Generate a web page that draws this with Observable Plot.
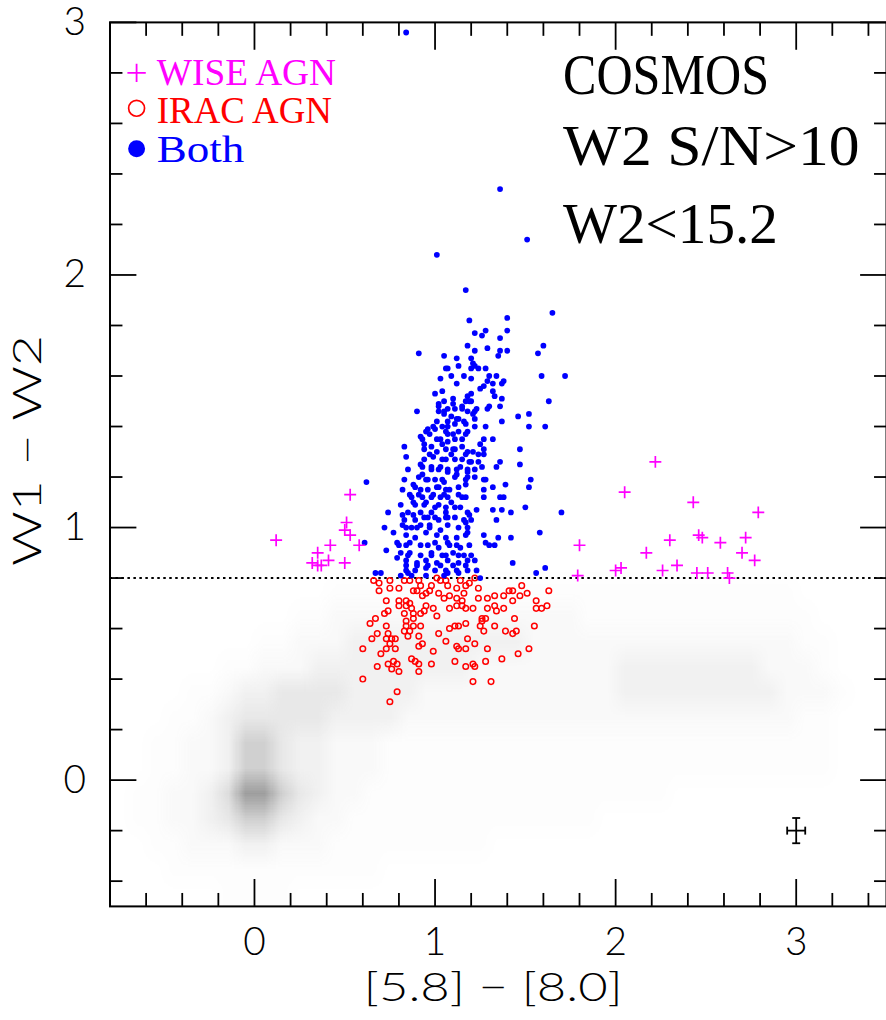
<!DOCTYPE html>
<html><head><meta charset="utf-8">
<script src="https://cdn.jsdelivr.net/npm/d3@7"></script>
<script src="https://cdn.jsdelivr.net/npm/@observablehq/plot@0.6"></script>
<style>html,body{margin:0;padding:0;background:#fff;overflow:hidden}</style>
</head><body><div id="chart"></div>
<script>
// ---- data ----
const majorTicks = [0, 1, 2, 3];
const minorX = [-0.6,-0.4,-0.2,0.2,0.4,0.6,0.8,1.2,1.4,1.6,1.8,2.2,2.4,2.6,2.8,3.2,3.4];
const minorY = [-0.4,-0.2,0.2,0.4,0.6,0.8,1.2,1.4,1.6,1.8,2.2,2.4,2.6,2.8];
const cutY = [0.8];

const wisePts = [[0.12,0.95],[0.53,1.13],[0.51,1.02],[0.50,0.99],[0.53,0.97],[0.58,0.93],[0.42,0.93],[0.35,0.90],[0.41,0.87],[0.32,0.86],[0.35,0.85],[0.37,0.85],[0.50,0.86],[2.22,1.26],[2.05,1.14],[2.43,1.10],[2.79,1.06],[1.80,0.93],[2.46,0.97],[2.48,0.96],[2.30,0.95],[2.72,0.96],[2.58,0.94],[2.17,0.90],[2.70,0.90],[2.77,0.87],[2.34,0.85],[2.26,0.83],[2.00,0.83],[2.03,0.84],[2.45,0.82],[2.51,0.82],[2.62,0.82],[2.63,0.80],[1.79,0.81]];

const iracPts = [[0.66,0.79],[0.69,0.78],[0.75,0.79],[0.75,0.76],[0.69,0.75],[0.80,0.76],[0.83,0.79],[0.86,0.79],[0.91,0.79],[0.92,0.77],[0.98,0.77],[1.01,0.80],[1.03,0.79],[1.06,0.79],[1.07,0.77],[1.12,0.76],[1.14,0.79],[1.17,0.77],[1.22,0.80],[1.19,0.78],[1.24,0.76],[1.41,0.75],[1.43,0.75],[1.48,0.77],[1.51,0.74],[1.63,0.75],[0.90,0.75],[0.93,0.73],[0.95,0.74],[0.88,0.75],[0.97,0.75],[1.02,0.74],[1.05,0.72],[1.08,0.73],[1.12,0.72],[1.16,0.74],[1.15,0.71],[1.24,0.72],[1.29,0.72],[1.33,0.73],[1.38,0.73],[1.43,0.71],[1.47,0.73],[1.56,0.71],[0.73,0.71],[0.80,0.71],[0.84,0.71],[0.86,0.70],[0.80,0.69],[0.84,0.69],[0.95,0.69],[0.99,0.68],[1.08,0.68],[1.12,0.69],[1.15,0.69],[1.17,0.68],[1.21,0.68],[1.29,0.68],[1.33,0.69],[1.38,0.68],[1.34,0.67],[1.56,0.68],[1.59,0.68],[1.62,0.69],[0.74,0.67],[0.72,0.66],[0.87,0.68],[0.88,0.66],[0.92,0.66],[0.94,0.67],[0.83,0.66],[1.01,0.65],[0.67,0.64],[0.64,0.62],[0.84,0.63],[0.88,0.64],[1.26,0.64],[1.28,0.64],[1.26,0.63],[1.44,0.64],[1.55,0.61],[0.73,0.61],[0.84,0.61],[0.88,0.61],[0.92,0.61],[0.83,0.59],[1.17,0.62],[1.11,0.61],[1.13,0.61],[1.08,0.60],[1.25,0.61],[1.33,0.61],[1.27,0.59],[1.39,0.59],[1.43,0.58],[1.45,0.59],[0.68,0.58],[0.74,0.58],[0.86,0.59],[0.85,0.57],[1.02,0.58],[0.65,0.56],[0.73,0.56],[0.76,0.56],[0.78,0.56],[0.91,0.57],[0.75,0.54],[0.73,0.52],[0.78,0.52],[0.91,0.53],[0.93,0.54],[1.06,0.55],[1.18,0.56],[1.22,0.54],[1.12,0.53],[1.13,0.52],[1.17,0.52],[1.29,0.52],[0.60,0.52],[0.99,0.51],[0.70,0.50],[1.52,0.52],[1.46,0.50],[1.37,0.48],[0.87,0.48],[0.89,0.47],[0.91,0.46],[0.98,0.46],[1.11,0.47],[1.28,0.47],[0.74,0.46],[0.77,0.47],[0.79,0.46],[0.68,0.45],[0.76,0.44],[0.80,0.43],[0.91,0.43],[1.17,0.45],[1.21,0.46],[1.22,0.45],[0.60,0.40],[1.21,0.39],[1.31,0.39],[0.79,0.35],[0.75,0.31]];

const bothPts = [[0.84,2.96],[1.36,2.34],[1.51,2.14],[1.01,2.08],[1.17,1.94],[1.65,1.85],[1.40,1.83],[1.19,1.82],[1.40,1.78],[1.22,1.77],[1.28,1.78],[1.26,1.76],[1.36,1.75],[1.18,1.72],[1.29,1.71],[1.60,1.72],[0.91,1.69],[1.22,1.70],[1.36,1.70],[1.40,1.70],[1.57,1.69],[1.05,1.68],[1.12,1.67],[1.20,1.67],[1.35,1.68],[1.21,1.65],[1.22,1.64],[1.06,1.63],[1.07,1.63],[1.13,1.64],[1.20,1.63],[1.24,1.63],[1.28,1.63],[1.59,1.60],[1.72,1.60],[1.03,1.59],[1.09,1.60],[1.16,1.60],[1.20,1.59],[1.30,1.60],[1.34,1.60],[1.12,1.57],[1.29,1.58],[1.32,1.57],[1.38,1.58],[1.37,1.57],[1.27,1.56],[1.25,1.55],[1.20,1.53],[1.00,1.53],[1.04,1.54],[1.32,1.54],[1.33,1.52],[1.18,1.52],[1.10,1.51],[1.63,1.50],[1.37,1.51],[1.17,1.50],[1.20,1.50],[1.05,1.50],[1.02,1.49],[1.15,1.48],[1.23,1.47],[0.90,1.46],[1.30,1.48],[1.36,1.48],[1.07,1.47],[1.11,1.47],[1.02,1.46],[1.18,1.46],[1.46,1.44],[1.52,1.45],[1.37,1.42],[1.29,1.47],[1.21,1.45],[1.09,1.44],[1.05,1.45],[1.13,1.43],[1.22,1.43],[1.01,1.42],[1.16,1.42],[1.52,1.40],[1.61,1.40],[0.99,1.40],[0.96,1.39],[1.04,1.40],[1.07,1.40],[1.11,1.41],[1.28,1.40],[1.22,1.40],[1.13,1.38],[1.18,1.38],[0.92,1.36],[0.97,1.37],[1.07,1.37],[1.17,1.37],[1.32,1.35],[1.27,1.35],[1.01,1.35],[1.11,1.35],[0.83,1.32],[0.94,1.33],[1.25,1.33],[1.04,1.33],[1.15,1.32],[0.94,1.31],[1.01,1.30],[1.10,1.31],[1.21,1.30],[1.27,1.31],[1.47,1.31],[0.84,1.28],[0.97,1.29],[1.17,1.29],[1.27,1.29],[0.94,1.27],[1.06,1.27],[1.11,1.27],[1.19,1.26],[1.24,1.26],[1.36,1.26],[1.47,1.25],[1.34,1.24],[0.85,1.23],[0.92,1.25],[0.98,1.24],[1.02,1.23],[1.14,1.24],[1.18,1.23],[1.26,1.24],[0.93,1.21],[1.07,1.22],[1.12,1.21],[1.18,1.20],[1.22,1.20],[1.53,1.19],[0.83,1.19],[0.96,1.19],[1.04,1.19],[1.27,1.19],[0.62,1.18],[0.82,1.15],[0.88,1.17],[0.92,1.15],[1.01,1.16],[1.08,1.15],[1.17,1.17],[1.39,1.17],[1.32,1.16],[1.52,1.16],[1.27,1.15],[0.86,1.13],[0.91,1.13],[0.99,1.13],[1.05,1.13],[1.13,1.13],[1.17,1.12],[1.27,1.12],[1.36,1.12],[1.38,1.12],[0.81,1.09],[0.88,1.10],[0.95,1.10],[1.02,1.09],[1.09,1.10],[1.14,1.08],[0.74,1.06],[0.85,1.06],[0.92,1.06],[0.98,1.06],[1.06,1.06],[1.11,1.08],[1.19,1.05],[1.23,1.07],[1.32,1.07],[1.37,1.07],[1.42,1.06],[1.50,1.08],[1.70,1.06],[1.34,1.03],[0.83,1.03],[0.89,1.03],[0.96,1.04],[1.02,1.03],[1.07,1.04],[1.16,1.03],[1.20,1.03],[0.72,1.00],[0.77,0.98],[0.84,1.00],[0.90,1.00],[0.97,1.00],[1.03,0.99],[1.13,1.00],[1.18,1.00],[1.27,0.97],[1.42,0.96],[1.58,0.98],[1.35,0.96],[0.61,0.94],[0.73,0.91],[0.80,0.93],[0.86,0.94],[0.92,0.93],[1.00,0.94],[1.07,0.94],[1.12,0.93],[1.19,0.93],[1.28,0.94],[1.30,0.93],[1.33,0.93],[0.79,0.88],[0.85,0.89],[0.92,0.89],[0.98,0.89],[1.06,0.89],[1.13,0.89],[1.20,0.89],[1.43,0.86],[0.84,0.85],[0.90,0.85],[0.96,0.85],[1.03,0.85],[1.10,0.85],[1.17,0.85],[1.22,0.87],[1.56,0.82],[1.61,0.84],[0.85,0.82],[0.95,0.81],[1.07,0.82],[1.13,0.82],[0.67,0.82],
[1.02,1.48],[1.05,1.46],[1.10,1.49],[1.15,1.47],[1.19,1.50],[1.22,1.46],[1.07,1.42],[1.12,1.43],[1.17,1.41],[0.95,1.38],[1.00,1.39],[1.06,1.38],[1.10,1.37],[1.15,1.35],[0.93,1.35],[1.03,1.35],[1.07,1.34],[0.98,1.32],[1.06,1.31],[1.11,1.31],[1.18,1.30],[1.24,1.29],[0.99,1.28],[1.04,1.27],[1.09,1.29],[1.15,1.27],[1.20,1.26],[0.93,1.24],[0.98,1.23],[1.03,1.24],[1.07,1.23],[1.12,1.23],[1.18,1.22],[1.22,1.23],[0.91,1.20],[0.95,1.19],[1.00,1.19],[1.05,1.18],[1.11,1.20],[1.17,1.19],[1.28,1.19],[0.89,1.16],[0.96,1.15],[1.02,1.16],[1.06,1.15],[1.13,1.16],[0.87,1.12],[0.93,1.12],[0.98,1.12],[1.03,1.12],[1.07,1.12],[1.15,1.12],[0.89,1.09],[0.94,1.09],[1.00,1.08],[1.06,1.08],[1.18,1.06],[0.82,1.05],[0.88,1.05],[0.94,1.04],[1.00,1.04],[1.06,1.04],[1.11,1.04],[1.17,1.02],[0.82,1.01],[0.87,1.00],[0.92,1.01],[0.97,1.01],[1.07,1.01],[1.18,0.98],[0.84,0.97],[0.89,0.96],[0.95,0.98],[1.01,0.97],[1.06,0.96],[1.12,0.96],[1.17,0.97],[0.79,0.94],[0.84,0.93],[0.96,0.93],[1.02,0.92],[1.08,0.93],[1.14,0.92],[0.81,0.90],[0.86,0.90],[0.98,0.90],[1.04,0.89],[1.10,0.90],[1.16,0.89],[0.84,0.87],[0.90,0.86],[0.95,0.87],[1.01,0.86],[1.07,0.87],[1.13,0.86],[1.18,0.87],[0.84,0.83],[0.89,0.83],[0.95,0.84],[1.00,0.83],[1.06,0.83],[1.12,0.83],[1.18,0.83],[1.23,0.83],[0.70,0.82],[0.81,0.81],[0.87,0.81],[1.05,0.81],[1.25,0.80]];

// Density of the faint grey background sample, read by eye (0 = empty .. 9 = solid),
// cells 0.1 wide in x (-0.8..3.5) and 0.1 tall in y (1.0 at top .. -0.5 at bottom)
const grayRows = [
  "0000000000000000000000000000000000000000000",
  "0000000000000000000000000000000000000000000",
  "0000000000001111111111111111111111111100000",
  "0000000000112222222222222211111111111110000",
  "0000000011222333333333322222222222222211000",
  "0000001122233333333322222222333333332221000",
  "0000112334444333322222222222333333333222100",
  "0001123444443333222222222222222222222211000",
  "0011223664332221111111111111111111111111000",
  "0011223664332221111111111111111111111111000",
  "0112235996432211111111111111111000000000000",
  "0112234664322111111111111110000000000000000",
  "0011222332221111111110000000000000000000000",
  "0001111111111110000000000000000000000000000",
  "0000001111000000000000000000000000000000000"
];
const grayCols = 43;

const errBar = [{x: 3, y: -0.2, ex: 0.05, ey: 0.05}];

const legendItems = [
  {label: "WISE AGN", color: "#ff00ff"},
  {label: "IRAC AGN", color: "#ff0000"},
  {label: "Both", color: "#0000ff"}
];
const annotations = ["COSMOS", "W2 S/N>10", "W2<15.2"];
const xLabel = "[5.8] − [8.0]";
const yLabel = "W1 − W2";

// ---- build ----
grayRows.forEach((r, i) => { if (r.length !== grayCols) throw new Error("gray row " + i + " has length " + r.length); });
const grayValues = grayRows.flatMap(r => [...r].map(Number));

const SANS = "Lato, 'Open Sans', sans-serif";
const SERIF = "'Liberation Serif', 'DejaVu Serif', serif";

const capV = {draw(ctx) { ctx.moveTo(0, -4); ctx.lineTo(0, 4); }};
const capH = {draw(ctx) { ctx.moveTo(-4, 0); ctx.lineTo(4, 0); }};

const tickMarks = [];
for (const a of ["bottom", "top"]) {
  tickMarks.push(Plot.axisX(majorTicks, {anchor: a, tickSize: -27, fill: "none", strokeWidth: 1.8, label: null}));
  tickMarks.push(Plot.axisX(minorX, {anchor: a, tickSize: -13, fill: "none", strokeWidth: 1.8, label: null}));
}
for (const a of ["left", "right"]) {
  tickMarks.push(Plot.axisY(majorTicks, {anchor: a, tickSize: -27, fill: "none", strokeWidth: 1.8, label: null}));
  tickMarks.push(Plot.axisY(minorY, {anchor: a, tickSize: -13, fill: "none", strokeWidth: 1.8, label: null}));
}

const legendDy = [63, 101.5, 140];
const legendSymDy = [50.7, 86.3, 127];
const annDy = [71.5, 143, 221.3];
const intFmt = d => String(d);

const chart = Plot.plot({
  width: 890, height: 1020,
  marginLeft: 110, marginRight: 0, marginTop: 22, marginBottom: 110,
  x: {domain: [-0.8, 3.5]},
  y: {domain: [-0.5, 3]},
  opacity: {type: "pow", exponent: 1.8, domain: [0, 9], range: [0, 0.85]},
  style: {fontFamily: SANS, fontSize: "39px", fontWeight: 300, color: "black", background: "white", overflow: "visible"},
  marks: [
    Plot.raster(grayValues, {width: grayCols, height: grayRows.length, x1: -0.8, x2: 3.5, y1: 1.0, y2: -0.5,
      fill: "#8c8c8c", fillOpacity: d => d, imageRendering: "auto", clip: true}),
    Plot.ruleY(cutY, {stroke: "black", strokeWidth: 2, strokeDasharray: "2.5,3.5"}),
    Plot.dot(iracPts, {x: d => d[0], y: d => d[1], r: 2.8, stroke: "#ff0000", strokeWidth: 1.5, fill: "none"}),
    Plot.dot(bothPts, {x: d => d[0], y: d => d[1], r: 2.9, fill: "#0000ff", stroke: "none"}),
    Plot.dot(wisePts, {x: d => d[0], y: d => d[1], r: 3.95, symbol: "plus", stroke: "#ff00ff", strokeWidth: 1.7}),
    // error bar
    Plot.link(errBar, {x1: d => d.x - d.ex, x2: d => d.x + d.ex, y1: "y", y2: "y", stroke: "black", strokeWidth: 1.8}),
    Plot.link(errBar, {x1: "x", x2: "x", y1: d => d.y - d.ey, y2: d => d.y + d.ey, stroke: "black", strokeWidth: 1.8}),
    Plot.dot(errBar, {x: d => d.x - d.ex, y: "y", symbol: capV, stroke: "black", strokeWidth: 1.8, fill: "none"}),
    Plot.dot(errBar, {x: d => d.x + d.ex, y: "y", symbol: capV, stroke: "black", strokeWidth: 1.8, fill: "none"}),
    Plot.dot(errBar, {x: "x", y: d => d.y - d.ey, symbol: capH, stroke: "black", strokeWidth: 1.8, fill: "none"}),
    Plot.dot(errBar, {x: "x", y: d => d.y + d.ey, symbol: capH, stroke: "black", strokeWidth: 1.8, fill: "none"}),
    // frame + ticks
    Plot.frame({stroke: "black", strokeWidth: 2}),
    ...tickMarks,
    Plot.axisX(majorTicks, {anchor: "bottom", tickSize: 0, tickPadding: 21, tickFormat: intFmt, label: null, fontSize: 39, fontFamily: SANS, fontWeight: 300}),
    Plot.axisY(majorTicks, {anchor: "left", tickSize: 0, tickPadding: 24, tickFormat: intFmt, label: null, fontSize: 39, fontFamily: SANS, fontWeight: 300}),
    // axis titles (start-anchored, widths fitted below)
    Plot.text([xLabel], {text: d => d, frameAnchor: "bottom", dx: -135, dy: 95, textAnchor: "start", lineAnchor: "bottom", fontSize: 40, fontFamily: SANS, fontWeight: 300, fill: "black"}),
    Plot.text([yLabel], {text: d => d, frameAnchor: "left", rotate: -90, dx: -82, dy: 102, textAnchor: "start", lineAnchor: "middle", fontSize: 40, fontFamily: SANS, fontWeight: 300, fill: "black"}),
    // annotations
    ...annotations.map((t, i) => Plot.text([t], {text: d => d, frameAnchor: "top-left", dx: 455, dy: annDy[i], textAnchor: "start", lineAnchor: "bottom", fontSize: 57, fontFamily: SERIF, fontWeight: 400, fill: "black"})),
    // legend
    ...legendItems.map((it, i) => Plot.text([it.label], {text: d => d, frameAnchor: "top-left", dx: 47, dy: legendDy[i], textAnchor: "start", lineAnchor: "bottom", fontSize: 38, fontFamily: SERIF, fontWeight: 400, fill: it.color})),
    Plot.dot([legendItems[0]], {frameAnchor: "top-left", dx: 26.7, dy: legendSymDy[0], r: 6, symbol: "plus", stroke: d => d.color, strokeWidth: 1.8}),
    Plot.dot([legendItems[1]], {frameAnchor: "top-left", dx: 26.7, dy: legendSymDy[1], r: 8, stroke: d => d.color, fill: "none", strokeWidth: 1.7}),
    Plot.dot([legendItems[2]], {frameAnchor: "top-left", dx: 26.7, dy: legendSymDy[2], r: 8.5, fill: d => d.color, stroke: "none"})
  ]
});
document.getElementById("chart").appendChild(chart);

// fit the text widths to the original's condensed lettering
const widths = {"COSMOS": 207, "W2 S/N>10": 298, "W2<15.2": 216, "WISE AGN": 180, "IRAC AGN": 176, "Both": 88};
widths[xLabel] = 260; widths[yLabel] = 232;
chart.querySelectorAll("text").forEach(t => {
  const w = widths[t.textContent];
  if (w) { t.setAttribute("textLength", w); t.setAttribute("lengthAdjust", "spacingAndGlyphs"); }
});
</script>
</body></html>
